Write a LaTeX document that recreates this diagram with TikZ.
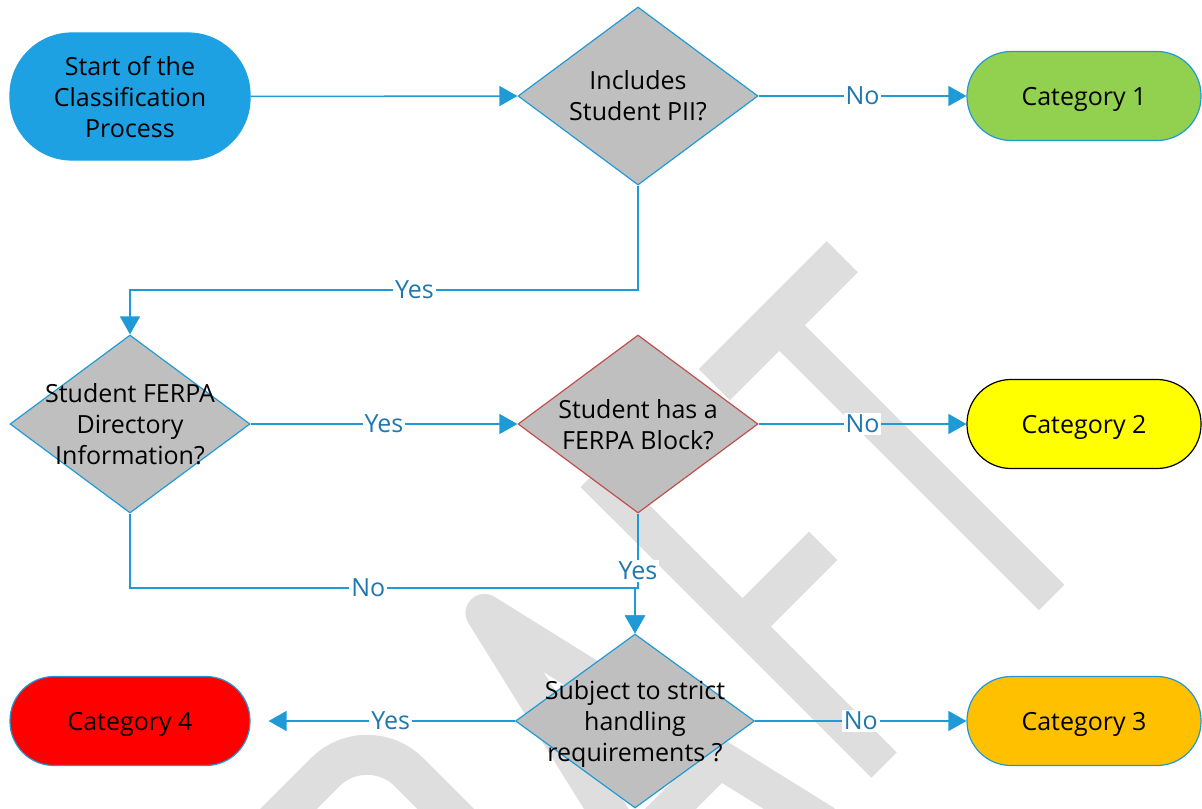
\documentclass[tikz,border=0pt]{standalone}
\usepackage{fontspec}
\setmainfont{Open Sans}
\usetikzlibrary{arrows.meta,shapes.geometric}
\definecolor{linkblue}{RGB}{30,155,215}
\definecolor{lblblue}{RGB}{30,120,175}
\definecolor{startblue}{RGB}{29,161,226}
\definecolor{qgray}{RGB}{191,191,191}
\definecolor{wmgray}{RGB}{222,222,222}
\definecolor{cgreen}{RGB}{146,208,80}
\definecolor{cyellow}{RGB}{255,255,0}
\definecolor{corange}{RGB}{255,192,0}
\definecolor{cred}{RGB}{255,0,0}
\definecolor{qred}{RGB}{192,80,77}
\begin{document}
\begin{tikzpicture}[x=0.5pt,y=-0.5pt,
  every node/.style={font=\fontsize{12.5}{15.5}\selectfont},
  terminal/.style={draw=linkblue, line width=0.6pt, minimum width=117pt,
    minimum height=44.5pt, rounded corners=22pt, inner sep=0pt, align=center,
    text depth=0pt},
  question/.style={diamond, draw=linkblue, line width=0.6pt, fill=qgray,
    minimum width=120pt, minimum height=89pt, inner sep=0pt},
  qtext/.style={label={[align=center, text depth=0pt]center:#1}},
  conn/.style={draw=linkblue, line width=0.75pt, -{Triangle[length=9pt,width=10pt]}},
  lbl/.style={fill=white, text=lblblue, inner sep=1pt},
  wm/.style={draw=wmgray, line cap=butt}
]
\useasboundingbox (0,0) rectangle (1202,808);

% DRAFT watermark, drawn in letter space (baseline along a, cap height along b)
\begin{scope}
  \clip (0,0) rectangle (1202,808);
  \begin{scope}[shift={(884,765)}, x={(0.35355pt,0.35355pt)}, y={(-0.35355pt,0.35355pt)}]
    % R (bowl)
    \draw[wm, line width=20pt, rounded corners=29.5pt] (-600,390) -- (-341,390) -- (-341,195) -- (-600,195);
    % A
    \draw[wm, line width=19pt, line join=round] (-266,0) -- (-175,390) -- (-84,0);
    \draw[wm, line width=18pt] (-238,120) -- (-112,120);
    % F
    \draw[wm, line width=18pt] (0,0) -- (0,411);
    \draw[wm, line width=22pt] (-18,389) -- (120,389);
    \draw[wm, line width=20pt] (0,198) -- (112,198);
    % T
    \draw[wm, line width=18pt] (237,0) -- (237,389);
    \draw[wm, line width=22pt] (149,389) -- (330,389);
  \end{scope}
\end{scope}

% process shapes
\node[terminal, fill=startblue, draw=startblue, minimum width=120pt,
      minimum height=63.5pt, rounded corners=31pt] (start) at (130,96.5)
      {Start of the\\Classification\\Process};
\node[question, qtext={Includes\\Student PII?}] (q1) at (638,96) {};
\node[terminal, fill=cgreen] (c1) at (1084,96) {Category 1};
\node[question, qtext={Student FERPA\\Directory\\Information?}] (q2) at (130,424) {};
\node[question, draw=qred, qtext={Student has a\\FERPA Block?}] (q3) at (638,424) {};
\node[terminal, fill=cyellow, draw=black] (c2) at (1084,424) {Category 2};
\node[question, minimum width=119.5pt, minimum height=87pt,
      qtext={Subject to strict\\handling\\requirements ?}] (q4) at (635,721) {};
\node[terminal, fill=corange] (c3) at (1084,721) {Category 3};
\node[terminal, fill=cred, minimum width=120pt] (c4) at (130,721) {Category 4};

% junction points of the elbow connectors
\coordinate (j1) at (638,290);
\coordinate (j2) at (635,588);

% connectors
\draw[conn] (start.east) -- (q1.west);
\draw[conn] (q1.east) -- node[lbl]{No} (c1.west);
\draw[conn] (q1.south) -- (j1) -| node[lbl, pos=0.22]{Yes} (q2.north);
\draw[conn] (q2.east) -- node[lbl]{Yes} (q3.west);
\draw[conn] (q3.east) -- node[lbl]{No} (c2.west);
\draw[conn] (q2.south) |- node[lbl, pos=0.736]{No} (j2) -- (q4.north);
\draw[conn] (q3.south) |- node[lbl, pos=0.387]{Yes} (j2) -- (q4.north);
\draw[conn] (q4.east) -- node[lbl]{No} (c3.west);
\draw[conn, shorten >=9pt] (q4.west) -- node[lbl, pos=0.47]{Yes} (c4.east);
\end{tikzpicture}
\end{document}
